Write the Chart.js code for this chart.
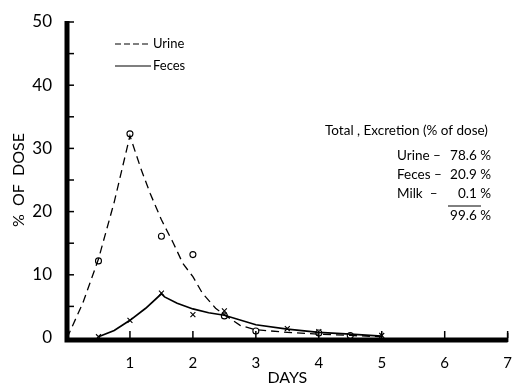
<!DOCTYPE html>
<html>
<head>
<meta charset="utf-8">
<script src="https://cdn.jsdelivr.net/npm/chart.js@4"></script>
<style>
  html, body { margin: 0; padding: 0; background: #fff; }
  #wrap { width: 520px; height: 391px; }
</style>
</head>
<body>
<div id="wrap"><canvas id="excretionChart" width="520" height="391"></canvas></div>
<script>
// curves as drawn by hand in the figure
let urineCurveX = [0, 0.25, 0.5, 0.75, 1, 1.17, 1.32, 1.5, 1.69, 1.84, 2, 2.15, 2.36, 2.5, 2.75, 3, 3.5, 4, 4.5, 5];
let urineCurveY = [0, 5.5, 12.5, 21.5, 32, 26.9, 22.9, 18.7, 15, 11.8, 9.7, 7.1, 4.7, 3.7, 2.0, 1.3, 0.9, 0.6, 0.4, 0.2];
let fecesCurveX = [0.5, 0.75, 1, 1.25, 1.5, 1.55, 1.75, 2, 2.25, 2.5, 3, 3.5, 4, 4.5, 5];
let fecesCurveY = [0.2, 1.2, 2.8, 4.7, 7, 6.5, 5.5, 4.6, 4.0, 3.6, 2.1, 1.4, 0.9, 0.6, 0.3];

// measured points
let urinePtX = [0.5, 1, 1.5, 2, 2.5, 3, 4, 4.5];
let urinePtY = [12.2, 32.3, 16.1, 13.2, 3.5, 1.1, 0.8, 0.4];
let fecesPtX = [0.5, 1, 1.5, 2, 2.5, 3.5, 4, 5];
let fecesPtY = [0.2, 2.8, 7.1, 3.7, 4.3, 1.5, 1.0, 0.4];

let totalLines = [
    ['Urine \u2013', '78.6 %'],
    ['Feces \u2013', '20.9 %'],
    ['Milk  \u2013', '0.1 %']
];
let totalSum = '99.6 %';

let font = 'Lato, "DejaVu Sans", sans-serif';

let toXY = function (xs, ys) {
    return xs.map(function (x, i) { return { x: x, y: ys[i] }; });
};

let extras = {
    id: 'extras',
    afterDraw: function (chart) {
        let c = chart.ctx;
        let xs = chart.scales.x;
        let ys = chart.scales.y;
        let area = chart.chartArea;
        c.save();
        c.strokeStyle = '#000';
        // heavy axes
        c.lineWidth = 5;
        c.beginPath();
        c.moveTo(area.left, area.top - 1);
        c.lineTo(area.left, area.bottom + 2);
        c.lineTo(area.right, area.bottom + 2);
        c.stroke();
        c.lineWidth = 1.5;
        c.beginPath();
        c.moveTo(area.right, area.bottom + 4);
        c.lineTo(area.right, area.bottom - 5);
        c.stroke();
        // inward ticks
        for (let v = 5; v <= 50; v += 5) {
            let p = ys.getPixelForValue(v);
            c.beginPath();
            c.moveTo(area.left, p);
            c.lineTo(area.left + 7, p);
            c.stroke();
        }
        for (let d = 1; d <= 7; d++) {
            let p = xs.getPixelForValue(d);
            c.beginPath();
            c.moveTo(p, area.bottom);
            c.lineTo(p, area.bottom - 7);
            c.stroke();
        }
        // legend
        c.lineWidth = 1.2;
        c.setLineDash([6, 3]);
        c.beginPath();
        c.moveTo(115, 44);
        c.lineTo(151, 44);
        c.stroke();
        c.setLineDash([]);
        c.beginPath();
        c.moveTo(115, 66);
        c.lineTo(151, 66);
        c.stroke();
        c.fillStyle = '#000';
        c.font = '13px ' + font;
        c.textBaseline = 'middle';
        c.fillText('Urine', 153, 44);
        c.fillText('Feces', 153, 66);
        // totals
        c.font = '13.5px ' + font;
        c.textAlign = 'left';
        c.fillText('Total , Excretion (% of dose)', 325, 131);
        for (let i = 0; i < totalLines.length; i++) {
            let y = 156 + i * 19;
            c.textAlign = 'left';
            c.fillText(totalLines[i][0], 397, y);
            c.textAlign = 'right';
            c.fillText(totalLines[i][1], 491, y);
        }
        c.lineWidth = 1;
        c.beginPath();
        c.moveTo(448, 206);
        c.lineTo(481, 206);
        c.stroke();
        c.textAlign = 'right';
        c.fillText(totalSum, 491, 216);
        c.restore();
    }
};

let ctx = document.getElementById('excretionChart').getContext('2d');

window.excretionChart = new Chart(ctx, {
    type: 'scatter',
    data: {
        datasets: [{
            label: 'Urine',
            data: toXY(urineCurveX, urineCurveY),
            showLine: true,
            borderColor: '#000',
            borderWidth: 1.3,
            borderDash: [8, 5],
            tension: 0,
            pointRadius: 0
        }, {
            label: 'Feces',
            data: toXY(fecesCurveX, fecesCurveY),
            showLine: true,
            borderColor: '#000',
            borderWidth: 1.7,
            tension: 0,
            pointRadius: 0
        }, {
            label: 'Urine points',
            data: toXY(urinePtX, urinePtY),
            pointStyle: 'circle',
            pointRadius: 3,
            borderColor: '#000',
            backgroundColor: '#fff',
            borderWidth: 1.1
        }, {
            label: 'Feces points',
            data: toXY(fecesPtX, fecesPtY),
            pointStyle: 'crossRot',
            pointRadius: 3.5,
            borderColor: '#000',
            borderWidth: 1.1
        }]
    },
    options: {
        responsive: false,
        animation: false,
        layout: { padding: { top: 22, right: 2, left: 0, bottom: 0 } },
        plugins: {
            legend: { display: false },
            tooltip: { enabled: false }
        },
        scales: {
            x: {
                min: 0,
                max: 7,
                border: { display: false },
                grid: { display: false },
                ticks: {
                    stepSize: 1,
                    color: '#000',
                    padding: 8,
                    font: { family: font, size: 15 },
                    callback: function (v) { return v === 0 ? '' : v; }
                },
                title: {
                    display: true,
                    text: 'DAYS',
                    color: '#000',
                    padding: { top: 8 },
                    font: { family: font, size: 16 }
                },
                afterFit: function (s) { s.height = 53; }
            },
            y: {
                min: 0,
                max: 50,
                border: { display: false },
                grid: { display: false },
                ticks: {
                    stepSize: 10,
                    color: '#000',
                    padding: 7,
                    font: { family: font, size: 17 }
                },
                title: {
                    display: true,
                    text: '%  OF  DOSE',
                    color: '#000',
                    padding: { top: 9, bottom: 0 },
                    font: { family: font, size: 16 }
                },
                afterFit: function (s) { s.width = 67; }
            }
        }
    },
    plugins: [extras]
});
</script>
</body>
</html>
